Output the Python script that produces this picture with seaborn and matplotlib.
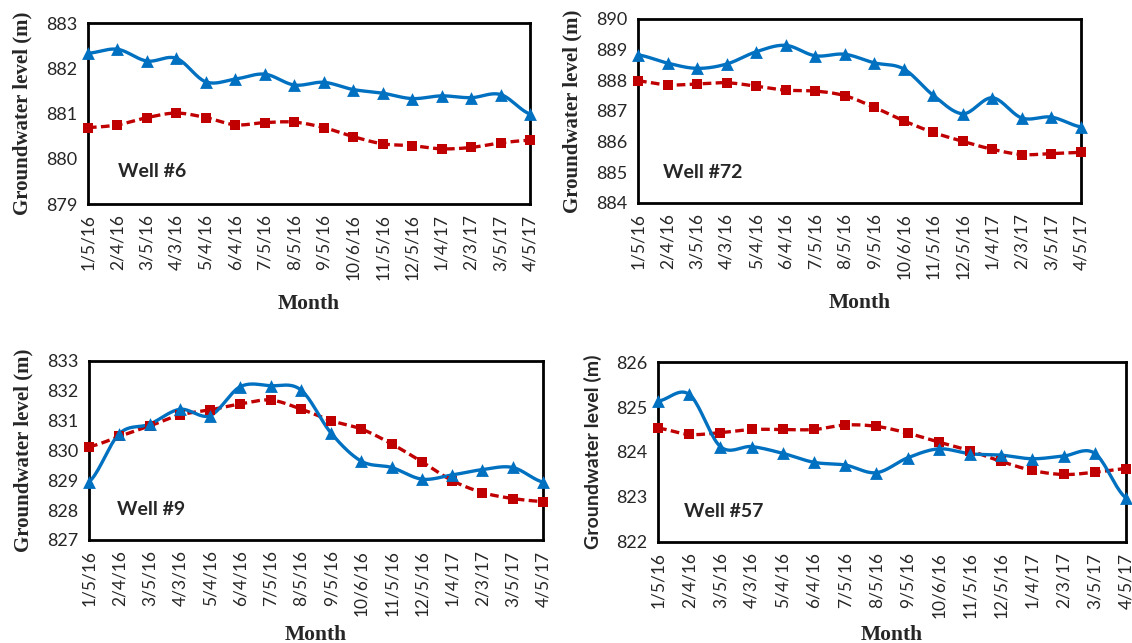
# Groundwater level by month for four wells (observed vs. simulated)
import matplotlib
matplotlib.use("Agg")
import matplotlib.pyplot as plt
from matplotlib.font_manager import FontProperties
import numpy as np
import pandas as pd
import seaborn as sns

months = ["1/5/16", "2/4/16", "3/5/16", "4/3/16", "5/4/16", "6/4/16", "7/5/16",
          "8/5/16", "9/5/16", "10/6/16", "11/5/16", "12/5/16", "1/4/17",
          "2/3/17", "3/5/17", "4/5/17"]

well6_blue = [882.33, 882.42, 882.16, 882.22, 881.70, 881.76, 881.87, 881.63,
              881.69, 881.53, 881.45, 881.33, 881.39, 881.35, 881.42, 880.99]
well6_red = [880.69, 880.75, 880.91, 881.01, 880.91, 880.75, 880.80, 880.81,
             880.69, 880.49, 880.33, 880.29, 880.22, 880.25, 880.35, 880.41]

well72_blue = [888.83, 888.56, 888.39, 888.53, 888.93, 889.14, 888.80, 888.85,
               888.57, 888.37, 887.51, 886.91, 887.43, 886.77, 886.80, 886.48]
well72_red = [887.98, 887.85, 887.88, 887.92, 887.81, 887.68, 887.65, 887.50,
              887.12, 886.68, 886.30, 886.01, 885.75, 885.58, 885.61, 885.65]

well9_blue = [828.95, 830.56, 830.88, 831.38, 831.17, 832.14, 832.17, 832.03,
              830.58, 829.64, 829.43, 829.04, 829.18, 829.36, 829.43, 828.94]
well9_red = [830.13, 830.47, 830.82, 831.19, 831.36, 831.56, 831.69, 831.39,
             831.00, 830.72, 830.22, 829.62, 828.99, 828.59, 828.39, 828.29]

well57_blue = [825.13, 825.28, 824.12, 824.12, 823.97, 823.77, 823.71, 823.54,
               823.87, 824.07, 823.96, 823.93, 823.85, 823.91, 823.97, 822.98]
well57_red = [824.53, 824.39, 824.43, 824.50, 824.50, 824.50, 824.60, 824.57,
              824.42, 824.22, 824.03, 823.79, 823.59, 823.50, 823.55, 823.63]

BLUE = "#0070C0"
RED = "#C00000"

sns.set_style("white")
plt.rcParams["font.family"] = ["Lato", "DejaVu Sans"]

serif_ylab = FontProperties(family="Liberation Serif", weight="bold", size=15)
sans_ylab = FontProperties(family="Lato", weight="bold", size=14)
month_font = FontProperties(family="Liberation Serif", weight="bold", size=15.5)


def smooth(y, n=20):
    # Excel-style smoothed line (Catmull-Rom through the points)
    y = np.asarray(y, dtype=float)
    p = np.concatenate([[y[0]], y, [y[-1]]])
    xs, ys = [], []
    t = np.linspace(0, 1, n, endpoint=False)
    for i in range(len(y) - 1):
        p0, p1, p2, p3 = p[i], p[i + 1], p[i + 2], p[i + 3]
        c1 = p1 + (p2 - p0) / 6
        c2 = p2 - (p3 - p1) / 6
        b = ((1 - t) ** 3 * p1 + 3 * (1 - t) ** 2 * t * c1
             + 3 * (1 - t) * t ** 2 * c2 + t ** 3 * p2)
        xs.extend(i + t)
        ys.extend(b)
    xs.append(len(y) - 1)
    ys.append(y[-1])
    return np.array(xs), np.array(ys)


panels = [
    # blue, red, label, yticks, axes rect, ylabel font, text pos, month pad
    (well6_blue, well6_red, "Well #6", range(879, 884),
     [0.0777, 0.6827, 0.3905, 0.2815], serif_ylab, (0.068, 0.177), 10),
    (well72_blue, well72_red, "Well #72", range(884, 891),
     [0.5636, 0.6843, 0.3913, 0.2862], serif_ylab, (0.056, 0.168), 10),
    (well9_blue, well9_red, "Well #9", range(827, 834),
     [0.0786, 0.1602, 0.4011, 0.2784], serif_ylab, (0.062, 0.168), 6),
    (well57_blue, well57_red, "Well #57", range(822, 827),
     [0.5813, 0.1571, 0.4134, 0.2799], sans_ylab, (0.056, 0.167), 5),
]

fig = plt.figure(figsize=(11.32, 6.43), dpi=100)
x = np.arange(len(months))

for blue, red, name, yt, rect, yfont, tpos, mpad in panels:
    ax = fig.add_axes(rect)
    for vals, color, ls in [(red, RED, (0, (2.6, 1.3))), (blue, BLUE, "-")]:
        sx, sy = smooth(vals)
        sns.lineplot(x=sx, y=sy, sort=False, estimator=None, color=color,
                     linewidth=2.4, linestyle=ls, ax=ax, clip_on=False)
    df = pd.DataFrame({"x": x, "red": red, "blue": blue})
    sns.scatterplot(data=df, x="x", y="red", marker="s", s=55, color=RED,
                    edgecolor=RED, linewidth=0, ax=ax, clip_on=False, zorder=4)
    sns.scatterplot(data=df, x="x", y="blue", marker="^", s=85, color=BLUE,
                    edgecolor=BLUE, linewidth=0, ax=ax, clip_on=False, zorder=5)

    ax.set_xlim(0, len(months) - 1)
    ax.set_ylim(min(yt), max(yt))
    ax.set_xticks(x)
    ax.set_xticklabels(months, rotation=90, fontsize=12.5)
    ax.set_yticks(list(yt))
    ax.set_yticklabels([str(v) for v in yt], fontsize=13)
    ax.tick_params(axis="both", direction="inout", length=9, width=2,
                   color="black", pad=3)
    for s in ax.spines.values():
        s.set_visible(True)
        s.set_color("black")
        s.set_linewidth(2)

    ax.set_ylabel("Groundwater level (m)", fontproperties=yfont, labelpad=10)
    ax.set_xlabel("Month", fontproperties=month_font, labelpad=mpad)
    ax.text(tpos[0], tpos[1], name, transform=ax.transAxes, fontsize=14,
            fontweight="bold", va="center", ha="left")

fig.savefig("out.png", dpi=100)
